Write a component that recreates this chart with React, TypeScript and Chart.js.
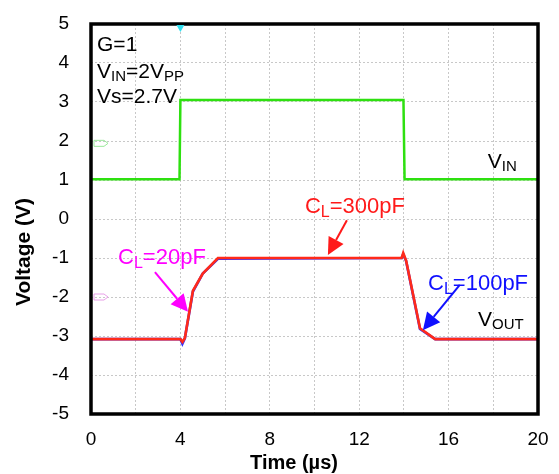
import React, { useEffect, useRef } from "react";
import { Chart, registerables } from "chart.js";

Chart.register(...registerables);

const vinTime = [0, 3.96, 4.0, 13.98, 14.03, 20];
const vinVolt = [1.02, 1.02, 3.05, 3.05, 1.02, 1.02];

const voutTime = [0, 4.0, 4.09, 4.2, 4.56, 5.0, 5.68, 13.9, 13.97, 14.1, 14.72, 15.4, 20];
const voutRed = [-3.08, -3.08, -3.15, -3.05, -1.84, -1.4, -1.0, -1.0, -0.87, -1.07, -2.8, -3.08, -3.08];
const voutBlue = [-3.08, -3.08, -3.2, -3.06, -1.86, -1.4, -1.02, -1.0, -0.9, -1.08, -2.82, -3.08, -3.08];

const xTicks = [0, 4, 8, 12, 16, 20];
const xGrid = [0, 2, 4, 6, 8, 10, 12, 14, 16, 18, 20];

const toPts = (xs: number[], ys: number[]) => xs.map((x, i) => ({ x, y: ys[i] }));

const FONT = 'Arial, "Liberation Sans", sans-serif';

type Part = { t: string; sub?: boolean };

function drawParts(ctx: CanvasRenderingContext2D, x: number, y: number, parts: Part[], color: string, size: number) {
  ctx.save();
  ctx.fillStyle = color;
  ctx.textBaseline = "middle";
  ctx.textAlign = "left";
  let cx = x;
  for (const p of parts) {
    if (p.sub) {
      ctx.font = `${Math.round(size * 0.72)}px ${FONT}`;
      ctx.fillText(p.t, cx, y + size * 0.24);
    } else {
      ctx.font = `${size}px ${FONT}`;
      ctx.fillText(p.t, cx, y);
    }
    cx += ctx.measureText(p.t).width;
  }
  ctx.restore();
}

function arrow(ctx: CanvasRenderingContext2D, x1: number, y1: number, x2: number, y2: number, color: string) {
  const ang = Math.atan2(y2 - y1, x2 - x1);
  const hl = 17, hw = 8.5;
  const bx = x2 - hl * Math.cos(ang), by = y2 - hl * Math.sin(ang);
  ctx.save();
  ctx.strokeStyle = color;
  ctx.fillStyle = color;
  ctx.lineWidth = 2;
  ctx.beginPath();
  ctx.moveTo(x1, y1);
  ctx.lineTo(bx, by);
  ctx.stroke();
  ctx.beginPath();
  ctx.moveTo(x2, y2);
  ctx.lineTo(bx + hw * Math.sin(ang), by - hw * Math.cos(ang));
  ctx.lineTo(bx - hw * Math.sin(ang), by + hw * Math.cos(ang));
  ctx.closePath();
  ctx.fill();
  ctx.restore();
}

const overlay = {
  id: "overlay",
  afterDraw(chart: any) {
    const ctx: CanvasRenderingContext2D = chart.ctx;
    const xs = chart.scales.x, ys = chart.scales.y;
    const X = (v: number) => xs.getPixelForValue(v);
    const Y = (v: number) => ys.getPixelForValue(v);
    const a = chart.chartArea;

    // frame
    ctx.save();
    ctx.strokeStyle = "#000";
    ctx.lineWidth = 3.5;
    ctx.strokeRect(a.left, a.top, a.right - a.left, a.bottom - a.top);
    ctx.restore();

    // scope markers
    ctx.save();
    ctx.fillStyle = "#33e0f0";
    ctx.beginPath();
    ctx.moveTo(X(4) - 4, a.top + 1);
    ctx.lineTo(X(4) + 4, a.top + 1);
    ctx.lineTo(X(4), a.top + 8);
    ctx.closePath();
    ctx.fill();
    const mark = (yv: number, col: string) => {
      const y = Y(yv), x0 = a.left + 3;
      ctx.strokeStyle = col;
      ctx.lineWidth = 1;
      ctx.beginPath();
      ctx.moveTo(x0, y - 3);
      ctx.lineTo(x0 + 10, y - 3);
      ctx.lineTo(x0 + 14, y);
      ctx.lineTo(x0 + 10, y + 3);
      ctx.lineTo(x0, y + 3);
      ctx.closePath();
      ctx.stroke();
    };
    mark(1.94, "#9be89b");
    mark(-2.0, "#e8a0e8");
    ctx.restore();

    const fs = 21;
    const cs = 22;
    drawParts(ctx, X(0.27), Y(4.46), [{ t: "G=1" }], "#000", fs);
    drawParts(ctx, X(0.27), Y(3.77), [{ t: "V" }, { t: "IN", sub: true }, { t: "=2V" }, { t: "PP", sub: true }], "#000", fs);
    drawParts(ctx, X(0.27), Y(3.13), [{ t: "Vs=2.7V" }], "#000", fs);
    drawParts(ctx, X(17.75), Y(1.46), [{ t: "V" }, { t: "IN", sub: true }], "#000", fs);
    drawParts(ctx, X(17.32), Y(-2.59), [{ t: "V" }, { t: "OUT", sub: true }], "#000", fs);
    drawParts(ctx, X(9.57), Y(0.31), [{ t: "C" }, { t: "L", sub: true }, { t: "=300pF" }], "#ff1a1a", cs);
    drawParts(ctx, X(1.21), Y(-1.0), [{ t: "C" }, { t: "L", sub: true }, { t: "=20pF" }], "#ff00ff", cs);
    drawParts(ctx, X(15.08), Y(-1.67), [{ t: "C" }, { t: "L", sub: true }, { t: "=100pF" }], "#1010ff", cs);

    arrow(ctx, X(11.45), Y(-0.03), X(10.6), Y(-0.92), "#ff1a1a");
    arrow(ctx, X(2.86), Y(-1.36), X(4.34), Y(-2.38), "#ff00ff");
    arrow(ctx, X(16.5), Y(-1.69), X(14.85), Y(-2.85), "#1010ff");

    // axis titles
    ctx.save();
    ctx.fillStyle = "#000";
    ctx.textAlign = "center";
    ctx.textBaseline = "middle";
    ctx.font = `bold 20px ${FONT}`;
    ctx.fillText("Time (\u00b5s)", 294, 463);
    ctx.font = `bold 21px ${FONT}`;
    ctx.translate(24, 252);
    ctx.rotate(-Math.PI / 2);
    ctx.fillText("Voltage (V)", 0, 0);
    ctx.restore();
  },
};

export default function App() {
  const ref = useRef<HTMLCanvasElement | null>(null);
  useEffect(() => {
    document.body.style.margin = "0";
    const chart = new Chart(ref.current as HTMLCanvasElement, {
      type: "line",
      data: {
        datasets: [
          { data: toPts(vinTime, vinVolt), borderColor: "#2ee010", borderWidth: 2.5, pointRadius: 0, tension: 0, order: 3 },
          { data: toPts(voutTime, voutBlue), borderColor: "#3030ff", borderWidth: 2.6, pointRadius: 0, tension: 0, order: 2 },
          { data: toPts(voutTime, voutRed), borderColor: "#ff2a1a", borderWidth: 2.6, pointRadius: 0, tension: 0, order: 1 },
        ],
      },
      options: {
        animation: false,
        responsive: false,
        devicePixelRatio: 1,
        layout: { padding: { top: 24, right: 21, left: 0, bottom: 0 } },
        plugins: { legend: { display: false }, tooltip: { enabled: false } },
        scales: {
          x: {
            type: "linear",
            min: 0,
            max: 20,
            afterFit: (s: any) => {
              s.height = 60;
              s.paddingLeft = 0;
              s.paddingRight = 0;
              s.paddingTop = 0;
              s.paddingBottom = 0;
            },
            afterBuildTicks: (s: any) => {
              s.ticks = xGrid.map((v) => ({ value: v }));
            },
            ticks: {
              autoSkip: false,
              maxRotation: 0,
              padding: 14,
              color: "#000",
              font: { size: 19, family: FONT },
              callback: (v: any) => (xTicks.includes(Number(v)) ? String(v) : ""),
            },
            grid: { color: "#c8c8c8", lineWidth: 1, drawTicks: false },
            border: { display: false, dash: [2, 2] },
          },
          y: {
            type: "linear",
            min: -5,
            max: 5,
            afterFit: (s: any) => {
              s.width = 91;
              s.paddingLeft = 0;
              s.paddingRight = 0;
              s.paddingTop = 0;
              s.paddingBottom = 0;
            },
            ticks: {
              stepSize: 1,
              padding: 22,
              color: "#000",
              font: { size: 19, family: FONT },
            },
            grid: { color: "#c8c8c8", lineWidth: 1, drawTicks: false },
            border: { display: false, dash: [2, 2] },
          },
        },
      },
      plugins: [overlay],
    } as any);
    return () => chart.destroy();
  }, []);
  return (
    <div style={{ position: "absolute", left: 0, top: 0, width: 559, height: 474, background: "#fff" }}>
      <canvas ref={ref} width={559} height={474} />
    </div>
  );
}
